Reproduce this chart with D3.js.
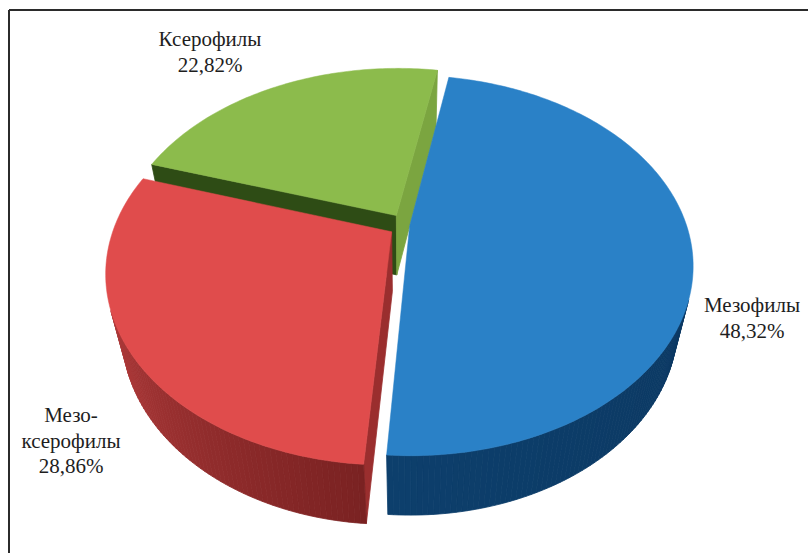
<!DOCTYPE html>
<html>
<head>
<meta charset="utf-8">
<script src="https://cdn.jsdelivr.net/npm/d3@7"></script>
<style>
  html, body { margin: 0; padding: 0; background: #fff; }
  svg { display: block; }
  text { font-family: 'Times New Roman', 'Liberation Serif', Tinos, 'DejaVu Serif', 'Noto Serif', serif; }
</style>
</head>
<body>
<div id="viz"></div>
<script>
// data
const names = ["Мезофилы", "Мезо-ксерофилы", "Ксерофилы"];
const values = [48.32, 28.86, 22.82];
const labelLines = [["Мезофилы"], ["Мезо-", "ксерофилы"], ["Ксерофилы"]];

const w = 808, h = 553;

// styles per slice
const topCol   = ["#2a81c7", "#e04c4c", "#8cbb4c"];
const sideFrom = ["#082f55", "#7a2222", "#4f7a24"];
const sideTo   = ["#0d3f6c", "#cc4646", "#6f9c35"];
const wallA    = ["#1b5f99", "#9a2e2e", "#2e4c15"];   // start wall
const wallB    = ["#1b5f99", "#b83a3a", "#7ba540"];   // end wall
const explode  = [0.015, 0.06, 0.065];
const labelPos = [[752, 312], [71, 422], [210, 46]];

// 3d view
const R = 277, cx = 405.5, cy = 225.6, depth = 0.3;
const elev = 41 * Math.PI / 180, D = 3.62;
const cosA = Math.cos(elev), sinA = Math.sin(elev);

function project(X, Y, Z) {
  const yv = Y * cosA + Z * sinA;
  const zv = Z * cosA - Y * sinA;
  const s = D / (D + zv);
  return [cx + R * s * X, cy - R * s * yv];
}

function area(pts) {
  let a = 0;
  for (let i = 0; i < pts.length; i++) {
    const p = pts[i], q = pts[(i + 1) % pts.length];
    a += p[0] * q[1] - q[0] * p[1];
  }
  return a;
}

const svg = d3.select('#viz').append('svg')
  .attr('width', w).attr('height', h);

svg.append('rect').attr('width', w).attr('height', h).attr('fill', '#fff');

// frame (only top and left visible in the crop)
svg.append('line').attr('x1', 9).attr('y1', 10).attr('x2', w).attr('y2', 10)
  .attr('stroke', '#2b2b2b').attr('stroke-width', 2);
svg.append('line').attr('x1', 9).attr('y1', 10).attr('x2', 9).attr('y2', h)
  .attr('stroke', '#2b2b2b').attr('stroke-width', 2);

const a0 = 10 * Math.PI / 180;
const arcs = d3.pie().sort(null).value(d => d)
  .startAngle(a0).endAngle(a0 + 2 * Math.PI)(values);

const line = d3.line();
const deg = Math.PI / 180;

const slices = arcs.map((a, i) => {
  const mid = (a.startAngle + a.endAngle) / 2;
  const ox = explode[i] * Math.sin(mid), oz = explode[i] * Math.cos(mid);
  const rim = (t, Y) => project(ox + Math.sin(t), Y, oz + Math.cos(t));
  const ctr = Y => project(ox, Y, oz);
  const zc = (oz + 0.5 * Math.cos(mid)) * cosA;
  return { a, i, rim, ctr, zc };
});

slices.sort((p, q) => q.zc - p.zc);

const g = svg.append('g');

slices.forEach(sl => {
  const { a, i, rim, ctr } = sl;
  const gs = g.append('g').attr('class', 'slice');
  const faces = [];

  const w1 = [ctr(0), rim(a.startAngle, 0), rim(a.startAngle, -depth), ctr(-depth)];
  if (area(w1) < 0) faces.push({ pts: w1, col: wallA[i] });
  const w2 = [rim(a.endAngle, 0), ctr(0), ctr(-depth), rim(a.endAngle, -depth)];
  if (area(w2) < 0) faces.push({ pts: w2, col: wallB[i] });

  const n = Math.ceil((a.endAngle - a.startAngle) / deg);
  const step = (a.endAngle - a.startAngle) / n;
  const sideCol = d3.interpolateRgb(sideFrom[i], sideTo[i]);
  for (let k = 0; k < n; k++) {
    const t0 = a.startAngle + k * step, t1 = t0 + step;
    const q = [rim(t0, 0), rim(t1, 0), rim(t1, -depth), rim(t0, -depth)];
    if (area(q) < 0) faces.push({ pts: q, col: sideCol((k + 0.5) / n) });
  }

  gs.selectAll('path.face').data(faces).enter().append('path')
    .attr('class', 'face')
    .attr('d', d => line(d.pts) + 'Z')
    .attr('fill', d => d.col)
    .attr('stroke', d => d.col)
    .attr('stroke-width', 0.8)
    .attr('stroke-linejoin', 'round');

  const topPts = [ctr(0)];
  for (let k = 0; k <= n; k++) topPts.push(rim(a.startAngle + k * step, 0));
  gs.append('path')
    .attr('d', line(topPts) + 'Z')
    .attr('fill', topCol[i])
    .attr('stroke', topCol[i])
    .attr('stroke-width', 0.5);
});

// labels
const fmt = v => d3.format('.2f')(v).replace('.', ',') + '%';
const labels = svg.append('g');
values.forEach((v, i) => {
  const lines = labelLines[i].concat([fmt(v)]);
  const t = labels.append('text')
    .attr('text-anchor', 'middle')
    .attr('x', labelPos[i][0]).attr('y', labelPos[i][1])
    .attr('font-size', 21)
    .attr('fill', '#1e1e1e');
  lines.forEach((s, j) => {
    t.append('tspan').attr('x', labelPos[i][0]).attr('dy', j === 0 ? 0 : 25.5).text(s);
  });
});
</script>
</body>
</html>
